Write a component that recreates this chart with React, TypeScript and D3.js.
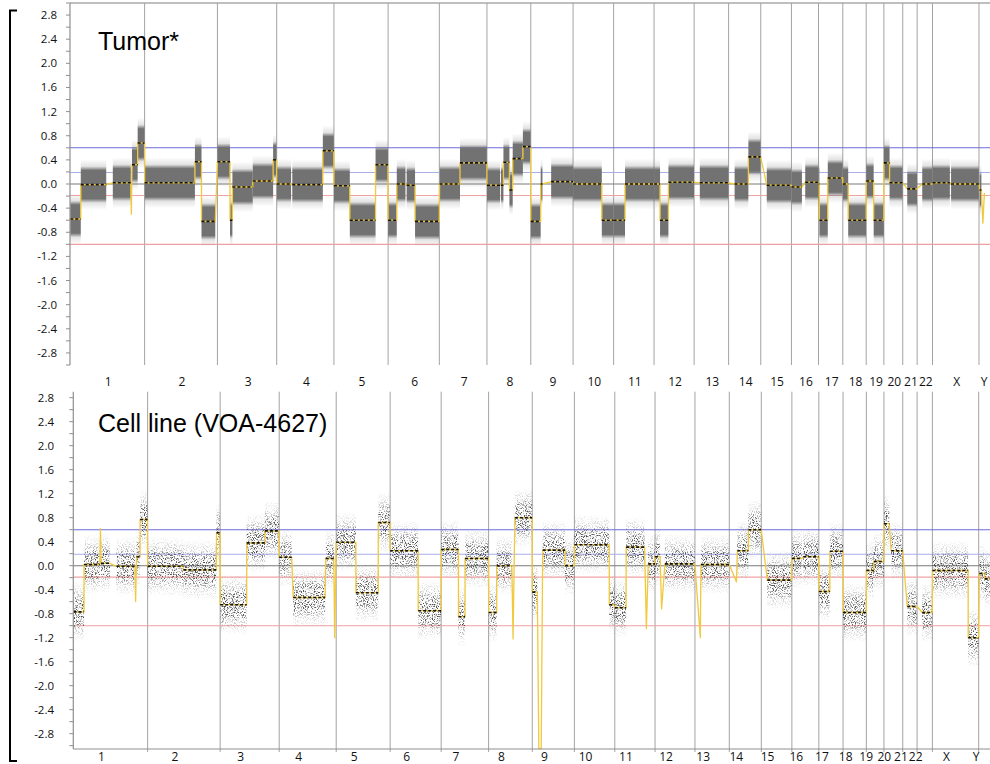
import React from "react";
import * as d3 from "d3";

// hg19 chromosome sizes, Mb
const chromNames = ["1","2","3","4","5","6","7","8","9","10","11","12","13","14","15","16","17","18","19","20","21","22","X","Y"];
const chromLengths = [249.25, 243.2, 198.0, 191.15, 180.9, 171.1, 159.1, 146.4, 141.2, 135.5, 135.0, 133.85, 115.2, 107.35, 102.5, 90.35, 81.2, 78.1, 59.1, 63.0, 48.1, 51.3, 155.3, 59.4];

const yTickLabels = [2.8, 2.4, 2.0, 1.6, 1.2, 0.8, 0.4, 0.0, -0.4, -0.8, -1.2, -1.6, -2.0, -2.4, -2.8];

// threshold lines: value, colour
const thresholdValues = [0.6, 0.19, -0.19, -1.0];
const thresholdColors = ["#6d6ddb", "#a8aeea", "#f0a3a3", "#eea0a0"];

// segments: chromosome, start Mb, end Mb, log2 ratio
const tumorSegments: [string, number, number, number][] = [
  ["1", 0.8, 36, -0.58], ["1", 36, 121, -0.01], ["1", 143, 203, 0.02], ["1", 207, 226, 0.32], ["1", 226, 249, 0.68],
  ["2", 0, 168, 0.02], ["2", 168, 190, 0.37], ["2", 190, 236, -0.62],
  ["3", 0, 42, 0.37], ["3", 42, 50, -0.6], ["3", 50, 118, -0.05], ["3", 118, 186, 0.05], ["3", 186, 197.5, 0.4],
  ["4", 0, 48, 0.0], ["4", 52, 154, -0.01], ["4", 154, 190.8, 0.55],
  ["5", 0, 53, -0.03], ["5", 53, 139, -0.6], ["5", 139, 180.5, 0.32],
  ["6", 0, 29, -0.6], ["6", 29, 58, 0.0], ["6", 62, 90, -0.02], ["6", 90, 170.8, -0.62],
  ["7", 1, 69, 0.0], ["7", 69, 158.8, 0.35],
  ["8", 0, 44, -0.02], ["8", 47, 55, -0.02], ["8", 55, 75, 0.36], ["8", 75, 86, -0.1], ["8", 86, 120, 0.42], ["8", 120, 146, 0.62],
  ["9", 0, 33, -0.62], ["9", 33, 39, 0.0], ["9", 68, 141, 0.04],
  ["10", 0, 96, 0.0], ["10", 96, 135.3, -0.6],
  ["11", 0, 38, -0.6], ["11", 38, 134.8, 0.0],
  ["12", 0, 20, 0.0], ["12", 20, 48, -0.6], ["12", 48, 133.5, 0.03],
  ["13", 19, 115, 0.02],
  ["14", 20, 66, 0.0], ["14", 66, 107, 0.45],
  ["15", 20, 102, -0.02],
  ["16", 0, 35, -0.05], ["16", 46, 90, 0.03],
  ["17", 0, 3, 0.0], ["17", 3, 31, -0.6], ["17", 31, 81, 0.1],
  ["18", 0, 18, 0.0], ["18", 18, 78, -0.6],
  ["19", 0, 25, 0.05], ["19", 25, 59, -0.6],
  ["20", 0, 19, 0.35], ["20", 19, 62.8, 0.02],
  ["21", 15, 48, -0.08],
  ["22", 17, 51, 0.0],
  ["X", 0, 58, 0.02], ["X", 62, 155, 0.0],
  ["Y", 2, 8, -0.1],
];
const tumorSpikes: [string, number, number][] = [
  ["1", 205, -0.5], ["Y", 13, -0.65], ["Y", 18, -0.15],
];

const cellSegments: [string, number, number, number][] = [
  ["1", 0.8, 36, -0.77], ["1", 36, 89, 0.02], ["1", 93, 123, 0.04], ["1", 145, 207, -0.01], ["1", 212, 224, 0.15], ["1", 224, 249, 0.77],
  ["2", 0, 120, -0.01], ["2", 120, 230, -0.07], ["2", 231, 243, 0.55],
  ["3", 0, 89, -0.65], ["3", 89, 150, 0.38], ["3", 150, 197.5, 0.58],
  ["4", 0, 42, 0.14], ["4", 47, 154, -0.53], ["4", 156, 183, 0.12],
  ["5", 0, 66, 0.39], ["5", 66, 141, -0.45], ["5", 141, 180.5, 0.72],
  ["6", 0, 94, 0.25], ["6", 94, 170.8, -0.75],
  ["7", 0, 58, 0.27], ["7", 58, 80, -0.85], ["7", 80, 158.8, 0.12],
  ["8", 0, 27, -0.78], ["8", 27, 78, 0.0], ["8", 88, 146, 0.8],
  ["9", 0, 17, -0.44], ["9", 35, 110, 0.26], ["9", 110, 141, 0.0],
  ["10", 0, 117, 0.35], ["10", 117, 135.3, -0.65],
  ["11", 0, 38, -0.7], ["11", 38, 100, 0.31], ["11", 112, 134.8, 0.03],
  ["12", 0, 17, 0.15], ["12", 33, 133.5, 0.03],
  ["13", 20, 115, 0.02],
  ["14", 27, 64, 0.25], ["14", 64, 107, 0.6],
  ["15", 20, 102, -0.24],
  ["16", 0, 33, 0.12], ["16", 38, 90, 0.15],
  ["17", 0, 37, -0.43], ["17", 37, 81, 0.24],
  ["18", 0, 78, -0.78],
  ["19", 0, 25, -0.08], ["19", 25, 59, 0.07],
  ["20", 0, 18, 0.7], ["20", 24, 62.8, 0.25],
  ["21", 15, 48, -0.68],
  ["22", 17, 51, -0.78],
  ["X", 0, 120, -0.08], ["X", 120, 155, -1.2],
  ["Y", 2, 20, -0.13], ["Y", 20, 40, -0.22],
];
const cellSpikes: [string, number, number][] = [
  ["1", 91, 0.62], ["1", 209, -0.6], ["4", 186, -1.2], ["8", 82, -1.22],
  ["9", 22, -3.05], ["9", 30, -3.05], ["11", 106, -1.05], ["12", 22, -0.72],
  ["13", 18, -1.2], ["14", 24, -0.27],
];

const chromStarts = chromLengths.map((_, i) => d3.sum(chromLengths.slice(0, i)));
const chromIdx = (c: string) => chromNames.indexOf(c);

const Panel = (props: any) => {
  const { segs, spikes, x, y, title, titleY, axisTop, axisBottom, labelY, labelDx, labelX, band, xAxisY, topBorder } = props;
  const g = (c: string, p: number) => chromStarts[chromIdx(c)] + p;
  const pts: [number, number][] = [
    ...segs.flatMap((s: any) => [[g(s[0], s[1]), s[3]], [g(s[0], s[2]), s[3]]]),
    ...spikes.map((s: any) => [g(s[0], s[1]), s[2]]),
  ].sort((a: any, b: any) => a[0] - b[0]) as any;
  const line = d3.line<[number, number]>().x(d => x(d[0])).y(d => y(d[1]));
  const x0 = x.range()[0];
  const minor = y.ticks(30).filter((t: number) => y(t) >= axisTop - 0.5 && y(t) <= axisBottom + 0.5);
  return (
    <g>
      {topBorder && <line x1={x0} x2={990} y1={axisTop} y2={axisTop} stroke="#aaa" strokeWidth={1.5} />}
      {chromNames.map((c, i) => (
        <line key={c} x1={x(chromStarts[i] + chromLengths[i])} x2={x(chromStarts[i] + chromLengths[i])}
          y1={axisTop} y2={xAxisY ? xAxisY + 3 : axisBottom} stroke="#a3a3a3" strokeWidth={1} />
      ))}
      {thresholdValues.map((v, i) => (
        <line key={v} x1={x0} x2={990} y1={y(v)} y2={y(v)} stroke={thresholdColors[i]} strokeWidth={1.1} />
      ))}
      <line x1={x0} x2={990} y1={y(0)} y2={y(0)} stroke="#7a7a7a" strokeWidth={1.1} />
      <g filter={band.filter ? `url(#${band.filter})` : undefined}>
        {segs.map((s: any, i: number) => (
          <rect key={"b" + i} x={x(g(s[0], s[1]))} width={x(g(s[0], s[2])) - x(g(s[0], s[1]))}
            y={y(s[3] + band.half)} height={y(s[3] - band.half) - y(s[3] + band.half)} fill={`url(#${band.id})`} />
        ))}
      </g>
      <path d={line(pts) || ""} fill="none" stroke="#f0c93c" strokeWidth={1.3} strokeLinejoin="round" />
      {segs.map((s: any, i: number) => (
        <line key={"m" + i} x1={x(g(s[0], s[1]))} x2={x(g(s[0], s[2]))} y1={y(s[3])} y2={y(s[3])}
          stroke="#111" strokeWidth={1.6} strokeDasharray="3 2" />
      ))}
      <line x1={x0} x2={x0} y1={axisTop} y2={axisBottom} stroke="#8f8f8f" strokeWidth={1.2} />
      {minor.map((t: number) => (
        <line key={"t" + t} x1={x0 - 4} x2={x0} y1={y(t)} y2={y(t)} stroke="#8f8f8f" strokeWidth={1} />
      ))}
      {xAxisY && <line x1={x0} x2={990} y1={xAxisY} y2={xAxisY} stroke="#8f8f8f" strokeWidth={1.2} />}
      {yTickLabels.map(t => (
        <text key={"l" + t} x={labelX} y={y(t) + 4} textAnchor="end" fontFamily="'Open Sans', sans-serif" fontSize={11.5} fill="#111">
          {t.toFixed(1)}
        </text>
      ))}
      {chromNames.map((c, i) => {
        const cx = Math.min((x(chromStarts[i]) + x(chromStarts[i] + chromLengths[i])) / 2 + labelDx.d, labelDx.max);
        return (
          <text key={"c" + c} x={cx} y={labelY} textAnchor="middle" fontFamily="'Open Sans', sans-serif" fontSize={12} fill="#111">{c}</text>
        );
      })}
      <text x={98} y={titleY} fontFamily="'Liberation Sans', Arial, sans-serif" fontSize={25} fill="#000">{title}</text>
    </g>
  );
};

const App = () => {
  const genome = chromStarts[23];
  const xTop = d3.scaleLinear().domain([0, genome]).range([70, 979]);
  const yTop = d3.scaleLinear().domain([-3, 3]).range([365, 3]);
  const xBot = d3.scaleLinear().domain([0, genome]).range([73.3, 978.7]);
  const yBot = d3.scaleLinear().domain([-3, 3]).range([745.7, 385.7]);
  return (
    <svg width={990} height={764} style={{ position: "absolute", left: 0, top: 0, background: "#fff" }}>
      <defs>
        <linearGradient id="bandTop" x1="0" y1="0" x2="0" y2="1">
          <stop offset="0" stopColor="#727272" stopOpacity={0} />
          <stop offset="0.14" stopColor="#727272" stopOpacity={0.2} />
          <stop offset="0.22" stopColor="#727272" stopOpacity={1} />
          <stop offset="0.78" stopColor="#727272" stopOpacity={1} />
          <stop offset="0.86" stopColor="#727272" stopOpacity={0.2} />
          <stop offset="1" stopColor="#727272" stopOpacity={0} />
        </linearGradient>
        <linearGradient id="bandBot" x1="0" y1="0" x2="0" y2="1">
          <stop offset="0" stopColor="#333" stopOpacity={0} />
          <stop offset="0.18" stopColor="#333" stopOpacity={0.25} />
          <stop offset="0.34" stopColor="#333" stopOpacity={0.85} />
          <stop offset="0.66" stopColor="#333" stopOpacity={0.85} />
          <stop offset="0.82" stopColor="#333" stopOpacity={0.25} />
          <stop offset="1" stopColor="#333" stopOpacity={0} />
        </linearGradient>
        <filter id="speckle" filterUnits="userSpaceOnUse" x={0} y={380} width={990} height={384}>
          <feTurbulence type="fractalNoise" baseFrequency="0.9" numOctaves={2} seed={7} result="noise" />
          <feColorMatrix in="noise" type="matrix" values="0 0 0 0 0  0 0 0 0 0  0 0 0 0 0  5 0 0 0 -2.45" result="mask" />
          <feComposite in="SourceGraphic" in2="mask" operator="in" />
        </filter>
      </defs>
      <Panel segs={tumorSegments} spikes={tumorSpikes} x={xTop} y={yTop} title="Tumor*" titleY={50}
        axisTop={3} axisBottom={365} labelY={385.5} labelDx={{ d: 1, max: 984 }} labelX={57}
        band={{ id: "bandTop", half: 0.42 }} topBorder />
      <Panel segs={cellSegments} spikes={cellSpikes} x={xBot} y={yBot} title="Cell line (VOA-4627)" titleY={432}
        axisTop={391.7} axisBottom={749} labelY={761} labelDx={{ d: -9, max: 976 }} labelX={54}
        band={{ id: "bandBot", half: 0.5, filter: "speckle" }} xAxisY={749} />
      <path d="M17,10.5 H10 V761 H17" fill="none" stroke="#000" strokeWidth={2} />
    </svg>
  );
};

export default App;
